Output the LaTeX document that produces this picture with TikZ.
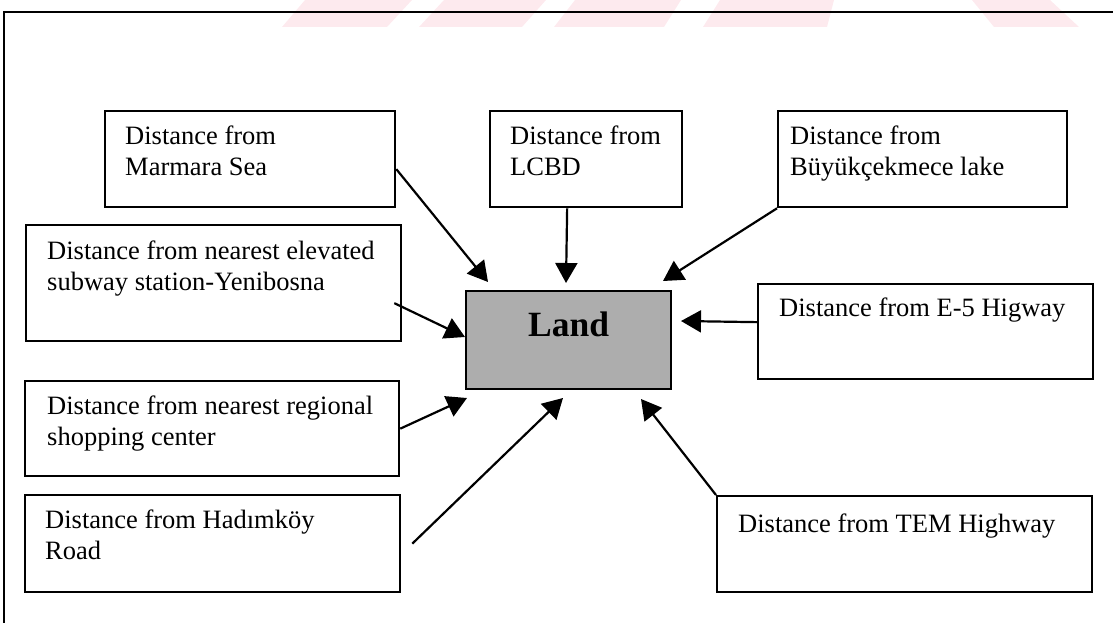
\documentclass[tikz,border=0pt]{standalone}
\usepackage{fontspec}
\setmainfont{Liberation Serif}
\usetikzlibrary{arrows.meta,calc}
\definecolor{landgray}{gray}{0.68}
\definecolor{wmpink}{RGB}{253,234,238}
\tikzset{
  box/.style={draw, line width=2.3pt, inner sep=0pt, anchor=north west},
  lbl/.style={anchor=north west, align=left, inner sep=0pt, font=\fontsize{26.5}{31}\selectfont},
  arr/.style={line width=2.2pt, -{Triangle[length=20pt,width=22pt]}},
  frame/.style={line width=2.3pt},
  wm/.style={fill=wmpink, draw=none}
}
\begin{document}
\begin{tikzpicture}[x=1pt,y=-1pt]
\useasboundingbox (0,0) rectangle (1113,623);
% watermark fragments
\fill[wm] (282,27) -- (305,0) -- (412,0) -- (387,27) -- cycle;
\fill[wm] (419,27) -- (444,0) -- (546,0) -- (522,27) -- cycle;
\fill[wm] (554,27) -- (575,0) -- (681,0) -- (664,27) -- cycle;
\fill[wm] (703,27) -- (720,0) -- (834,0) -- (827,27) -- cycle;
\fill[wm] (972,0) -- (1050,0) -- (1079,27) -- (994,27) -- cycle;
% frame
\draw[frame] (4,623) -- (4,12) -- (1113,12);
% boxes
\node[box, minimum width=290pt, minimum height=96pt,
  label={[lbl, xshift=21pt, yshift=-16pt]north west:{Distance from\\Marmara Sea}}] (mar) at (104,110) {};
\node[box, minimum width=192pt, minimum height=96pt,
  label={[lbl, xshift=21pt, yshift=-16pt]north west:{Distance from\\LCBD}}] (lcbd) at (489,110) {};
\node[box, minimum width=289pt, minimum height=96pt,
  label={[lbl, xshift=13pt, yshift=-16pt]north west:{Distance from\\Büyükçekmece lake}}] (buy) at (777,110) {};
\node[box, minimum width=375pt, minimum height=116pt,
  label={[lbl, xshift=22pt, yshift=-17pt]north west:{Distance from nearest elevated\\subway station-Yenibosna}}] (yen) at (25,224) {};
\node[box, fill=landgray, minimum width=205pt, minimum height=98pt,
  label={[font=\bfseries\fontsize{35.5}{40}\selectfont, yshift=16pt]center:Land}] (land) at (465,290) {};
\node[box, minimum width=335pt, minimum height=95pt,
  label={[lbl, xshift=22pt, yshift=-15pt]north west:{Distance from E-5 Higway}}] (e5) at (757,283) {};
\node[box, minimum width=374pt, minimum height=95pt,
  label={[lbl, xshift=23pt, yshift=-16pt]north west:{Distance from nearest regional\\shopping center}}] (shop) at (24,380) {};
\node[box, minimum width=375pt, minimum height=97pt,
  label={[lbl, xshift=21pt, yshift=-16pt]north west:{Distance from Hadımköy\\Road}}] (had) at (24,494) {};
\node[box, minimum width=375pt, minimum height=96pt,
  label={[lbl, xshift=22pt, yshift=-19pt]north west:{Distance from TEM Highway}}] (tem) at (716,495) {};
% arrow tips
\coordinate (tmar) at (488,282);
\coordinate (tlcbd) at (566,283);
\coordinate (tbuy) at (663,281);
\coordinate (tyen) at (465,337);
\coordinate (te5) at (681,321);
\coordinate (tshop) at (467,398);
\coordinate (thad) at (563,398);
\coordinate (ttem) at (641,399);
% connectors
\draw[arr] ([yshift=-10pt]mar.east) -- (tmar);
\draw[arr] ([xshift=-19pt]lcbd.south) -- (tlcbd);
\draw[arr] (buy.south west) -- (tbuy);
\draw[arr] ([xshift=-8pt,yshift=-20pt]yen.east) -- (tyen);
\draw[arr] ([yshift=9.5pt]e5.west) -- (te5);
\draw[arr] (shop.east) -- (tshop);
\draw[arr] ([xshift=11pt]had.east) -- (thad);
\draw[arr] (tem.north west) -- (ttem);
\end{tikzpicture}
\end{document}
